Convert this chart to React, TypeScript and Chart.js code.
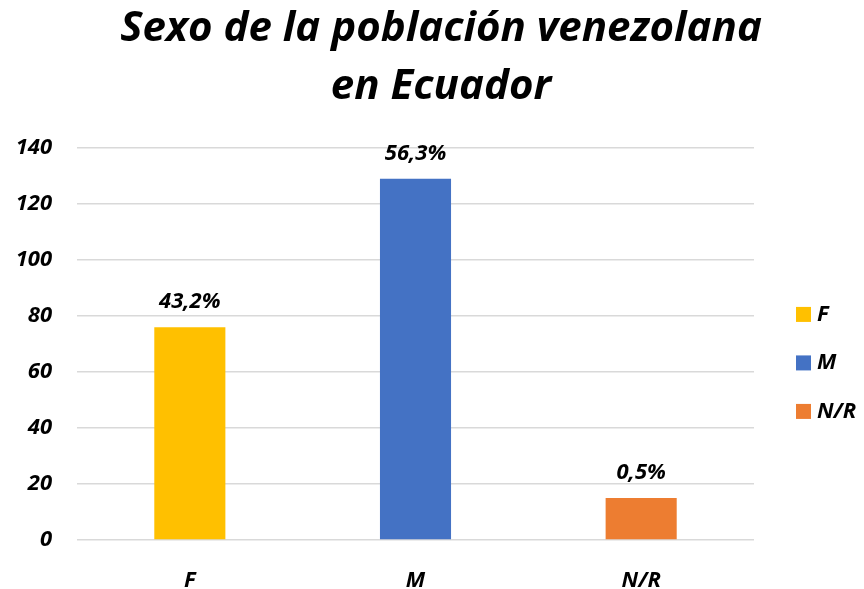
import React, { useEffect, useRef } from 'react';
import { Chart, registerables } from 'chart.js';

Chart.register(...registerables);

const categories = ['F', 'M', 'N/R'];
const values = [76, 129, 15];
const percentLabels = ['43,2%', '56,3%', '0,5%'];
const colors = ['#FFC000', '#4472C4', '#ED7D31'];
const titleLines = ['Sexo de la población venezolana', 'en Ecuador'];
const yMin = 0;
const yMax = 140;
const yStep = 20;

const FONT = '"Open Sans"';

export default function App() {
  const ref = useRef<HTMLCanvasElement>(null);

  useEffect(() => {
    document.body.style.margin = '0';
    const canvas = ref.current;
    if (!canvas) return;

    const valueLabelPlugin = {
      id: 'valueLabels',
      afterDatasetsDraw(chart: any) {
        const ctx = chart.ctx;
        const meta = chart.getDatasetMeta(0);
        ctx.save();
        ctx.font = `italic bold 22px ${FONT}`;
        ctx.fillStyle = '#000';
        ctx.textAlign = 'center';
        ctx.textBaseline = 'alphabetic';
        meta.data.forEach((bar: any, i: number) => {
          ctx.fillText(percentLabels[i], bar.x, bar.y - 19);
        });
        ctx.restore();
      },
    };

    const sideLegendPlugin = {
      id: 'sideLegend',
      afterDraw(chart: any) {
        const ctx = chart.ctx;
        const area = chart.chartArea;
        const x0 = area.right + 42;
        const y0 = area.top + 166.5;
        const step = 48.5;
        ctx.save();
        ctx.font = `italic bold 22px ${FONT}`;
        ctx.textAlign = 'left';
        ctx.textBaseline = 'middle';
        categories.forEach((c, i) => {
          const cy = y0 + i * step;
          ctx.fillStyle = colors[i];
          ctx.fillRect(x0, cy - 7.5, 15, 15);
          ctx.fillStyle = '#000';
          ctx.fillText(c, x0 + 21, cy);
        });
        ctx.restore();
      },
    };

    const titleShiftPlugin = {
      id: 'titleShift',
      afterLayout(chart: any) {
        const t = chart.titleBlock;
        if (t) {
          t.left = 18;
          t.right = 864;
        }
      },
    };

    const chart = new Chart(canvas, {
      type: 'bar',
      data: {
        labels: categories,
        datasets: [
          {
            data: values,
            backgroundColor: colors,
            barPercentage: 1,
            categoryPercentage: 0.315,
          },
        ],
      },
      options: {
        responsive: false,
        animation: false,
        devicePixelRatio: 1,
        layout: { padding: { left: 12, right: 110, top: 0, bottom: 0 } },
        plugins: {
          legend: { display: false },
          tooltip: { enabled: false },
          title: {
            display: true,
            text: titleLines,
            color: '#000',
            font: { family: FONT, size: 42, weight: 'bold', style: 'italic', lineHeight: 1.38 },
            padding: { top: 0, bottom: 32 },
          },
        },
        scales: {
          x: {
            grid: { display: false },
            border: { display: false },
            ticks: {
              color: '#000',
              padding: 20,
              font: { family: FONT, size: 22, weight: 'bold', style: 'italic' },
            },
            afterFit(scale: any) {
              scale.height = 49;
            },
          },
          y: {
            min: yMin,
            max: yMax,
            grid: { color: '#d9d9d9', lineWidth: 1.5, drawTicks: false },
            border: { display: false },
            ticks: {
              stepSize: yStep,
              color: '#000',
              padding: 25,
              font: { family: FONT, size: 22, weight: 'bold', style: 'italic' },
            },
            afterFit(scale: any) {
              scale.width = 65;
            },
          },
        },
      },
      plugins: [valueLabelPlugin, sideLegendPlugin, titleShiftPlugin],
    });

    return () => chart.destroy();
  }, []);

  return <canvas ref={ref} width={864} height={589} style={{ display: 'block' }} />;
}
